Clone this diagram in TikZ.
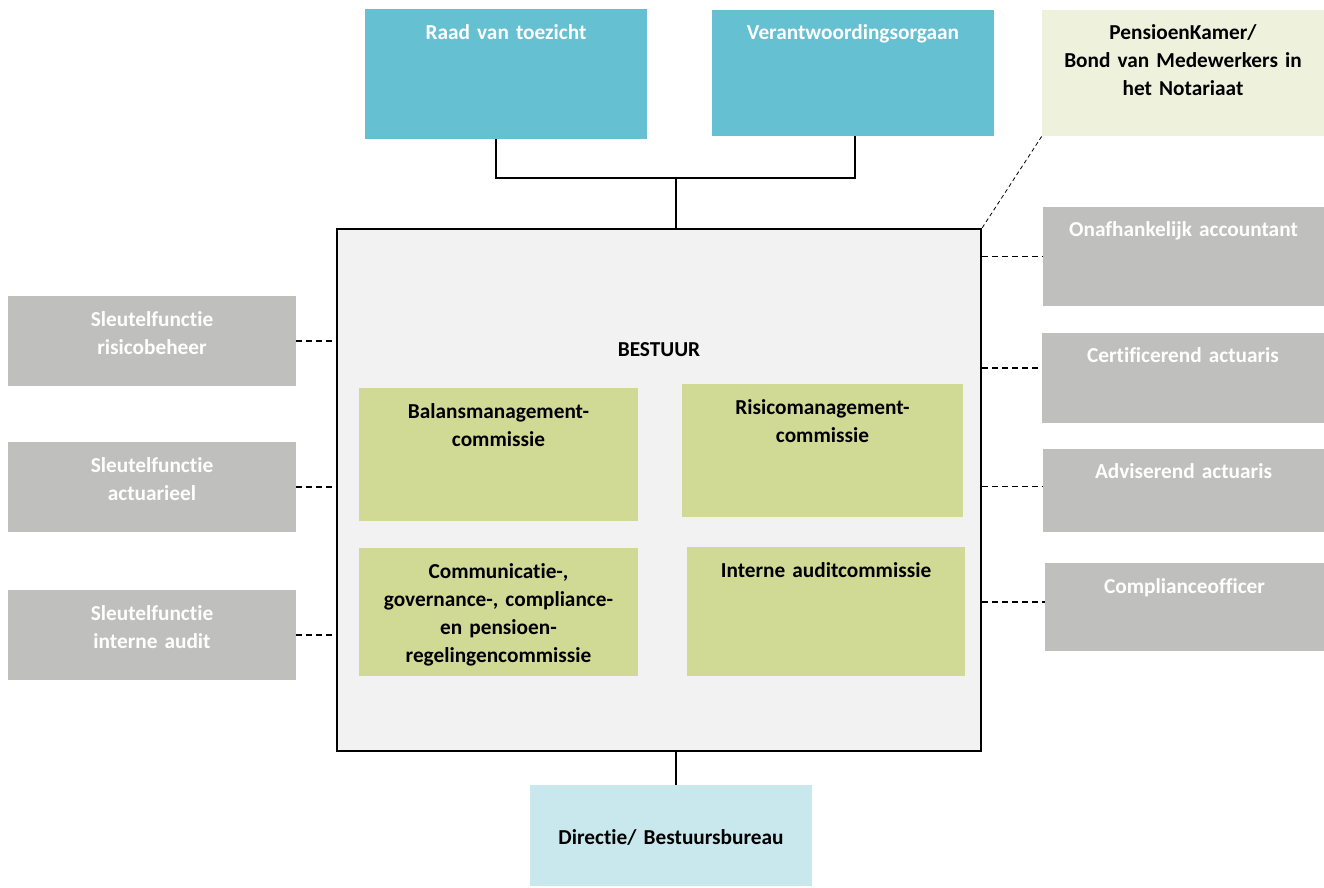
\documentclass[tikz,border=0pt]{standalone}
\usepackage{fontspec}
\setmainfont{Carlito}[RawFeature={-liga;-clig;-calt;-dlig}]
\usetikzlibrary{positioning}

\definecolor{rvtblauw}{HTML}{65C0D2}
\definecolor{grijs}{HTML}{BFBFBD}
\definecolor{groen}{HTML}{D0DA94}
\definecolor{lichtgroen}{HTML}{EEF2DC}
\definecolor{lichtblauw}{HTML}{C9E8EE}
\definecolor{bestuurgrijs}{HTML}{F2F2F2}

\begin{document}
\begin{tikzpicture}
      [%%%%%%%%%%%%%%%%%%%%%%%%%%%%%%
      x=1pt,y=-1pt,
      box/.style={rectangle,inner sep=0pt,minimum width=282pt},
      lbl/.style={inner sep=0pt,anchor=base,align=center,text width=280pt,
        font=\fontsize{21.3}{28}\selectfont\bfseries},
      conn/.style={line width=1.6pt},
      stippel/.style={line width=1.4pt,dash pattern=on 6pt off 4pt},
      ]%%%%%%%%%%%%%%%%%%%%%%%%%%%%%%
      \useasboundingbox (0,0) rectangle (1324,887);

      % bovenste rij
      \node[box,fill=rvtblauw,minimum height=130pt] (raad) at (506,74){};
      \node[box,fill=rvtblauw,minimum height=126pt] (verant) at (853,73){};
      \node[box,fill=lichtgroen,minimum height=126pt] (kamer) at (1183,73){};
      \node[lbl,white] (raadtxt) at ([yshift=-31]raad.north){Raad van toezicht};
      \node[lbl,white] (veranttxt) at ([yshift=-30]verant.north){Verantwoordingsorgaan};
      \node[lbl] (kamertxt) at ([yshift=-30]kamer.north){PensioenKamer/\\Bond van Medewerkers in\\het Notariaat};

      % bestuur
      \node[box,fill=bestuurgrijs,draw=black,line width=2.4pt,
        minimum width=644pt,minimum height=522pt] (bestuur) at (659,490){};
      \node[lbl] (bestuurtxt) at ([yshift=-129]bestuur.north){BESTUUR};

      \node[box,fill=groen,minimum width=279pt,minimum height=133pt] (balans) at (498.5,454.5){};
      \node[box,fill=groen,minimum width=281pt,minimum height=133pt] (risico) at (822.5,450.5){};
      \node[box,fill=groen,minimum width=279pt,minimum height=128pt] (comm) at (498.5,612){};
      \node[box,fill=groen,minimum width=278pt,minimum height=129pt] (audit) at (826,611.5){};
      \node[lbl] (balanstxt) at ([yshift=-31]balans.north){Balansmanagement-\\commissie};
      \node[lbl] (risicotxt) at ([yshift=-31]risico.north){Risicomanagement-\\commissie};
      \node[lbl] (commtxt) at ([yshift=-31]comm.north){Communicatie-,\\governance-, compliance-\\en pensioen-\\regelingencommissie};
      \node[lbl] (audittxt) at ([yshift=-31]audit.north){Interne auditcommissie};

      % sleutelfuncties links
      \foreach \i/\y/\t in {1/341/risicobeheer,2/487/actuarieel,3/635/interne audit}{
        \node[box,fill=grijs,minimum width=288pt,minimum height=90pt] (sf\i) at (152,\y){};
        \node[lbl,white] (sftxt\i) at ([yshift=-31]sf\i.north){Sleutelfunctie\\\t};
      }

      % externe partijen rechts
      \node[box,fill=grijs,minimum width=281pt,minimum height=99pt] (onaf) at (1183.5,256.5){};
      \node[box,fill=grijs,minimum width=282pt,minimum height=90pt] (cert) at (1183,378){};
      \node[box,fill=grijs,minimum width=281pt,minimum height=83pt] (advis) at (1183.5,490.5){};
      \node[box,fill=grijs,minimum width=279pt,minimum height=88pt] (compl) at (1184.5,607){};
      \node[lbl,white] (onaftxt) at ([yshift=-30]onaf.north){Onafhankelijk accountant};
      \node[lbl,white] (certtxt) at ([yshift=-30]cert.north){Certificerend actuaris};
      \node[lbl,white] (advistxt) at ([yshift=-30]advis.north){Adviserend actuaris};
      \node[lbl,white] (compltxt) at ([yshift=-31]compl.north){Complianceofficer};

      % directie
      \node[box,fill=lichtblauw,minimum height=101pt] (directie) at (671,835.5){};
      \node[lbl] (directietxt) at ([yshift=-8.5]directie.center){Directie/ Bestuursbureau};

      % lijnen
      \coordinate (knoop) at (676,178);
      \draw[conn] ([xshift=-10]raad.south) |- (knoop) -| ([xshift=2]verant.south);
      \draw[conn] (knoop) -- (knoop |- bestuur.north);
      \draw[conn] (knoop |- bestuur.south) -- (knoop |- directie.north);

      \foreach \i in {1,2,3}
        \draw[stippel] (sf\i.east) -- (sf\i.east -| bestuur.west);
      \draw[stippel] (bestuur.east |- onaf.west) -- (onaf.west);
      \draw[stippel] ([yshift=10]cert.west -| bestuur.east) -- ([yshift=10]cert.west);
      \draw[stippel] ([yshift=4]advis.west -| bestuur.east) -- ([yshift=4]advis.west);
      \draw[stippel] ([yshift=5]compl.west -| bestuur.east) -- ([yshift=5]compl.west);
      \draw[line width=0.8pt,dash pattern=on 4pt off 3pt] (bestuur.north east) -- (kamer.south west);
    \end{tikzpicture}
\end{document}
